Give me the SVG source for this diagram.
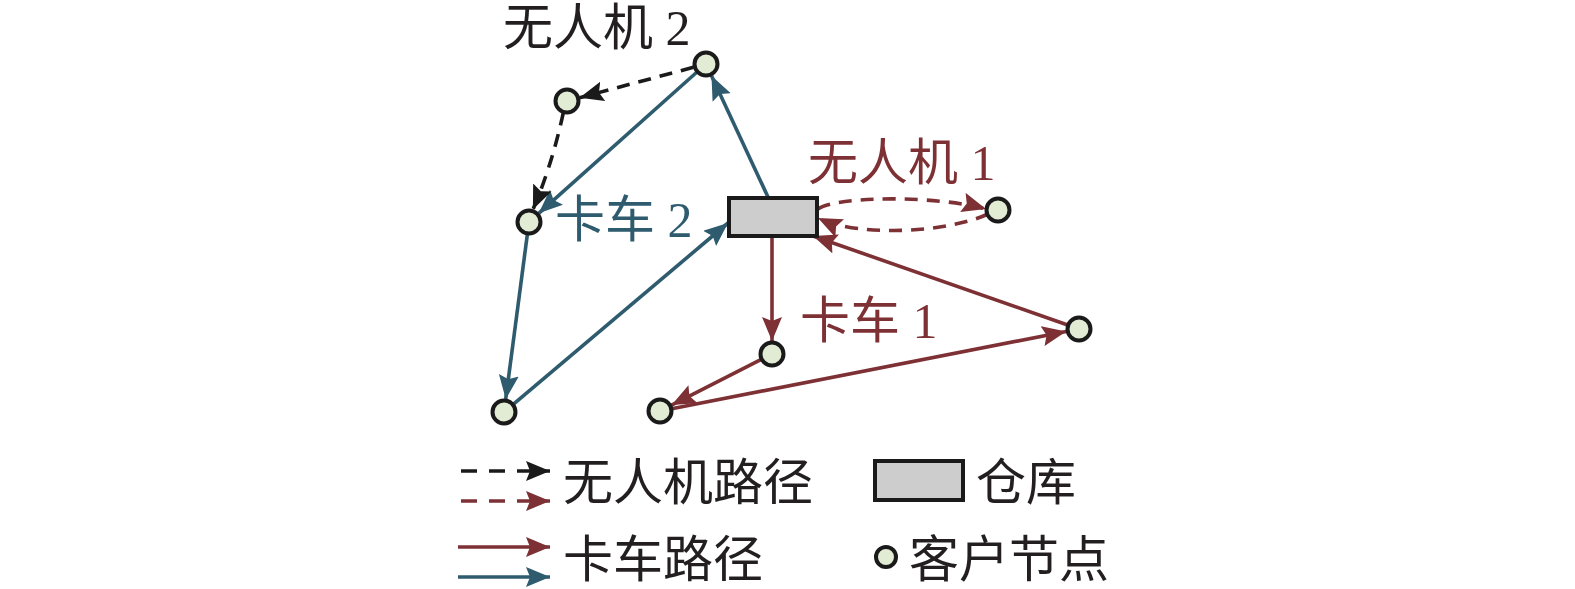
<svg xmlns="http://www.w3.org/2000/svg" width="1575" height="589" viewBox="0 0 1575 589">
<style>
.node{fill:#e2ecd5;stroke:#1a1a1a;stroke-width:4}
.depot{fill:#cdcdcd;stroke:#1a1a1a;stroke-width:4}
.red{stroke:#7e3135;stroke-width:3.6;fill:none}
.blue{stroke:#2f5b6e;stroke-width:3.6;fill:none}
.black{stroke:#1a1a1a;stroke-width:3.6;fill:none}
.dash{stroke-dasharray:13 9}
.ldash{stroke-dasharray:16 12}
.t{font-family:"Liberation Serif","Noto Sans CJK SC",serif;font-size:50px}
.tr{fill:#7e3135}.tb{fill:#2f5b6e}.tk{fill:#231f20}
</style>
<defs>
<marker id="aR" markerUnits="userSpaceOnUse" markerWidth="26" markerHeight="22" refX="24" refY="10" orient="auto"><path d="M0,0 L24,10 L0,20 L4,10 Z" fill="#7e3135"/></marker>
<marker id="aB" markerUnits="userSpaceOnUse" markerWidth="26" markerHeight="22" refX="24" refY="10" orient="auto"><path d="M0,0 L24,10 L0,20 L4,10 Z" fill="#2f5b6e"/></marker>
<marker id="aK" markerUnits="userSpaceOnUse" markerWidth="26" markerHeight="22" refX="24" refY="10" orient="auto"><path d="M0,0 L24,10 L0,20 L4,10 Z" fill="#1a1a1a"/></marker>
</defs>
<g id="connectors">
<line class="blue" x1="768" y1="197" x2="711.5" y2="75.8" marker-end="url(#aB)"/>
<line class="blue" x1="697" y1="72" x2="538.7" y2="213.3" marker-end="url(#aB)"/>
<line class="blue" x1="527.4" y1="234" x2="505.7" y2="399.1" marker-end="url(#aB)"/>
<line class="blue" x1="513.2" y1="404.3" x2="728" y2="223" marker-end="url(#aB)"/>
<line class="red" x1="772" y1="236" x2="772" y2="341" marker-end="url(#aR)"/>
<line class="red" x1="761.3" y1="359.4" x2="671.6" y2="405.1" marker-end="url(#aR)"/>
<line class="red" x1="671.8" y1="408.7" x2="1066.2" y2="331.5" marker-end="url(#aR)"/>
<line class="red" x1="1067.7" y1="325" x2="813" y2="236" marker-end="url(#aR)"/>
<line class="black dash" x1="693.4" y1="67.3" x2="579.6" y2="97.7" marker-end="url(#aK)"/>
<path class="black dash" d="M563.4,112.4 Q552,165 532.9,209.6" marker-end="url(#aK)"/>
<path class="red dash" d="M818,209 C840,195 940,196 986,209" marker-end="url(#aR)"/>
<path class="red dash" d="M988,214 C950,232 860,238 818,218" marker-end="url(#aR)"/>
</g>
<g id="depot"><rect class="depot" x="729" y="198" width="88" height="38"/></g>
<g id="n1"><circle class="node" cx="706" cy="64" r="11.5"/></g>
<g id="n2"><circle class="node" cx="567" cy="101" r="11.5"/></g>
<g id="n3"><circle class="node" cx="529" cy="222" r="11.5"/></g>
<g id="n4"><circle class="node" cx="504" cy="412" r="11.5"/></g>
<g id="n5"><circle class="node" cx="772" cy="354" r="11.5"/></g>
<g id="n6"><circle class="node" cx="660" cy="411" r="11.5"/></g>
<g id="n7"><circle class="node" cx="1079" cy="329" r="11.5"/></g>
<g id="n8"><circle class="node" cx="998" cy="210" r="11.5"/></g>
<g id="labels">
<text class="t tk" x="503" y="45">无人机 2</text>
<text class="t tr" x="808" y="180">无人机 1</text>
<text class="t tb" x="555" y="237">卡车 2</text>
<text class="t tr" x="800" y="338">卡车 1</text>
</g>
<g id="legend">
<line class="black ldash" x1="461" y1="471" x2="550" y2="471" marker-end="url(#aK)"/>
<line class="red ldash" x1="461" y1="501" x2="550" y2="501" marker-end="url(#aR)"/>
<line class="red" x1="458" y1="547" x2="550" y2="547" marker-end="url(#aR)"/>
<line class="blue" x1="458" y1="577" x2="550" y2="577" marker-end="url(#aB)"/>
<text class="t tk" x="563" y="500">无人机路径</text>
<text class="t tk" x="563" y="577">卡车路径</text>
<rect class="depot" x="875" y="461" width="88" height="39"/>
<text class="t tk" x="976" y="500">仓库</text>
<circle class="node" cx="886" cy="557" r="10"/>
<text class="t tk" x="909" y="577">客户节点</text>
</g>
</svg>
